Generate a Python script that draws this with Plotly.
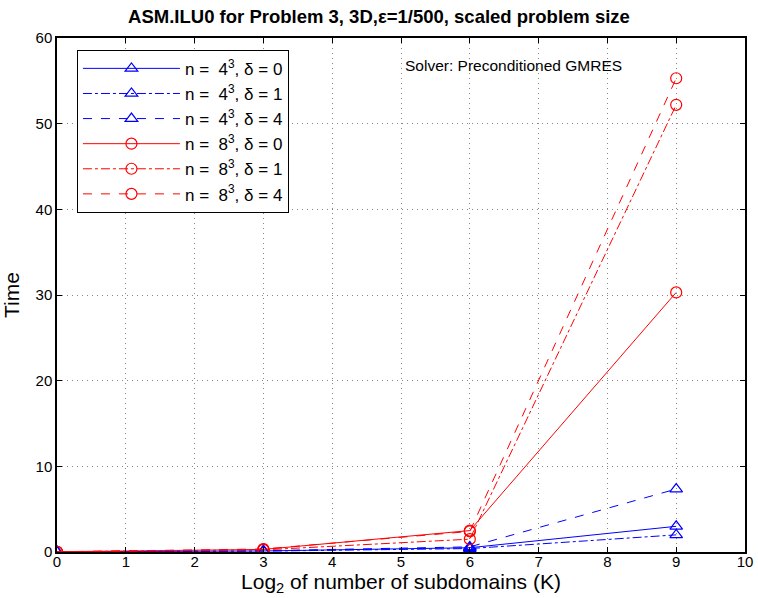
import plotly.graph_objects as go

x_log2K = [0, 3, 6, 9]
t_n4_d0 = [0.02, 0.12, 0.50, 3.0]
t_n4_d1 = [0.02, 0.10, 0.40, 2.0]
t_n4_d4 = [0.02, 0.15, 0.60, 7.35]
t_n8_d0 = [0.03, 0.30, 2.50, 30.3]
t_n8_d1 = [0.03, 0.25, 1.50, 52.2]
t_n8_d4 = [0.03, 0.35, 2.40, 55.3]

series = [
    ("n =  4<sup>3</sup>, δ = 0", t_n4_d0, "blue", "solid", "triangle-up-open"),
    ("n =  4<sup>3</sup>, δ = 1", t_n4_d1, "blue", "dashdot", "triangle-up-open"),
    ("n =  4<sup>3</sup>, δ = 4", t_n4_d4, "blue", "dash", "triangle-up-open"),
    ("n =  8<sup>3</sup>, δ = 0", t_n8_d0, "red", "solid", "circle-open"),
    ("n =  8<sup>3</sup>, δ = 1", t_n8_d1, "red", "dashdot", "circle-open"),
    ("n =  8<sup>3</sup>, δ = 4", t_n8_d4, "red", "dash", "circle-open"),
]

fig = go.Figure()
for name, y, c, d, sym in series:
    fig.add_trace(go.Scatter(
        x=x_log2K, y=y, name=name, mode="lines+markers",
        line=dict(color=c, width=1, dash=d),
        marker=dict(symbol=sym, size=11, color=c, line=dict(width=1.2, color=c)),
    ))

font = "Liberation Sans, Arial, Helvetica, sans-serif"
axis_common = dict(
    showline=True, linecolor="black", linewidth=1.5, mirror="ticks",
    ticks="inside", ticklen=5, tickcolor="black",
    showgrid=True, gridcolor="#888888", griddash="1px,4px", gridwidth=1,
    zeroline=False, automargin=False,
    tickfont=dict(size=15, color="black", family=font),
)
fig.update_layout(
    width=758, height=598,
    margin=dict(l=57, r=13, t=38, b=46),
    paper_bgcolor="white", plot_bgcolor="white",
    font=dict(family=font, color="black"),
    title=dict(text="<b>ASM.ILU0 for Problem 3, 3D,ε=1/500, scaled problem size</b>",
               x=0.5, xanchor="center", y=0.972, yanchor="middle",
               font=dict(size=18.5, family=font, color="black")),
    xaxis=dict(range=[0, 10], dtick=1, ticklabelstandoff=-5,
               title=dict(text="Log<sub>2</sub> of number of subdomains (K)",
                          font=dict(size=21, family=font), standoff=2),
               **axis_common),
    yaxis=dict(range=[0, 60], dtick=10,
               title=dict(text="Time", font=dict(size=21, family=font), standoff=10),
               **axis_common),
    legend=dict(x=0.029, y=0.977, xanchor="left", yanchor="top",
                bgcolor="white", bordercolor="black", borderwidth=1,
                font=dict(size=17, family=font, color="black"),
                itemwidth=97),
    showlegend=True,
)
fig.add_annotation(text="Solver: Preconditioned GMRES", x=6.63, y=56.8,
                   xref="x", yref="y", showarrow=False,
                   font=dict(size=15.5, family=font, color="black"))
fig.write_html("out.html")
